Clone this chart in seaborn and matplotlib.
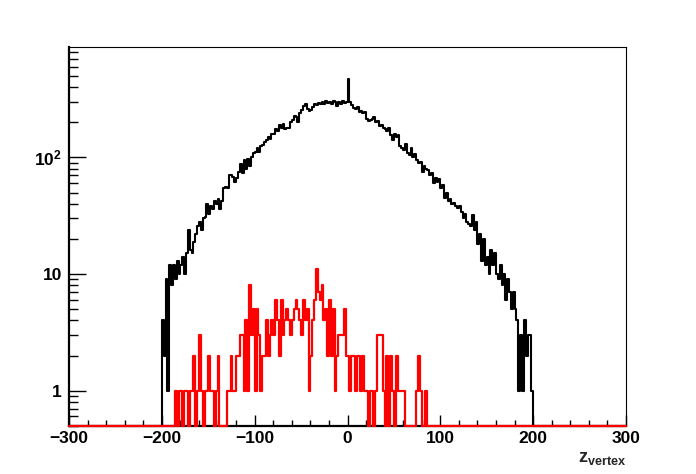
import numpy as np
import seaborn as sns
import matplotlib
matplotlib.use("Agg")
import matplotlib.pyplot as plt
from matplotlib.ticker import FixedLocator, FixedFormatter, LogLocator, NullFormatter, MultipleLocator

# histogram binning (2 units per bin, -300..300)
bin_width = 2
x_range = (-300, 300)

# black histogram: all vertices, bins from -200 to 198
black_start = -200
black_counts = [
    4, 2, 9, 1, 12, 8, 12, 9, 13, 10,
    12, 14, 10, 15, 24, 16, 15, 19, 22, 26,
    28, 24, 30, 31, 40, 33, 38, 36, 42, 40,
    44, 36, 42, 55, 56, 55, 70, 71, 68, 62,
    66, 75, 88, 74, 95, 80, 97, 85, 100, 110,
    112, 120, 112, 125, 128, 135, 140, 150, 145, 158,
    160, 175, 168, 190, 180, 195, 175, 180, 178, 200,
    210, 225, 220, 200, 240, 255, 275, 290, 260, 250,
    255, 270, 290, 280, 295, 285, 300, 290, 305, 295,
    300, 290, 305, 300, 275, 300, 290, 305, 295, 300,
    470, 300, 280, 265, 260, 270, 245, 250, 240, 245,
    215, 205, 210, 215, 220, 200, 205, 185, 190, 180,
    175, 170, 178, 155, 140, 160, 150, 155, 125, 120,
    115, 130, 110, 105, 120, 100, 108, 95, 90, 92,
    75, 85, 80, 78, 70, 74, 60, 66, 62, 65,
    55, 58, 45, 50, 42, 44, 40, 41, 38, 37,
    38, 34, 30, 33, 28, 27, 26, 32, 24, 28,
    18, 22, 13, 20, 12, 14, 10, 16, 12, 15,
    10, 9, 12, 8, 10, 6, 9, 7, 5, 7,
    5, 4, 1, 3, 1, 4, 2, 3, 3, 1,
]

# red histogram: selected vertices, bins from -190 to 88
red_start = -190
red_counts = [
    0, 0, 1, 0, 1, 1, 0, 1, 1, 0,
    1, 1, 2, 0, 1, 3, 1, 0, 1, 1,
    2, 1, 1, 0, 1, 2, 0, 0, 0, 0,
    1, 1, 2, 1, 1, 2, 2, 3, 3, 1,
    4, 1, 8, 3, 5, 1, 5, 3, 1, 2,
    2, 4, 2, 3, 4, 3, 6, 4, 2, 6,
    3, 4, 5, 4, 3, 4, 5, 6, 5, 4,
    3, 6, 4, 5, 1, 2, 4, 6, 11, 7,
    6, 8, 4, 5, 2, 6, 2, 5, 1, 2,
    3, 3, 3, 5, 2, 2, 1, 2, 2, 1,
    2, 2, 1, 2, 1, 1, 0, 1, 1, 0,
    1, 3, 3, 3, 1, 0, 2, 0, 2, 1,
    0, 2, 1, 1, 1, 1, 0, 0, 0, 0,
    0, 0, 1, 2, 1, 0, 0, 1, 0, 0,
]

y_ticks = [1, 10, 100]
y_ticklabels = ["1", "10", r"$\mathbf{10^{2}}$"]
x_ticks = [-300, -200, -100, 0, 100, 200, 300]
x_label = r"$\mathbf{z_{vertex}}$"

ymin, ymax = 0.5, 880

edges = np.arange(x_range[0], x_range[1] + bin_width, bin_width)
nbins = len(edges) - 1


def full_hist(start, counts):
    h = np.zeros(nbins)
    i0 = (start - x_range[0]) // bin_width
    h[i0:i0 + len(counts)] = counts
    # empty bins sit on the lower frame edge like ROOT draws them
    h = np.where(h > 0, h, ymin)
    return np.append(h, h[-1])


sns.set_style("ticks")
plt.rcParams["font.family"] = ["Liberation Sans", "DejaVu Sans"]
plt.rcParams["font.weight"] = "bold"
plt.rcParams["mathtext.fontset"] = "custom"
plt.rcParams["mathtext.bf"] = "Liberation Sans:bold"
plt.rcParams["mathtext.rm"] = "Liberation Sans:bold"

fig = plt.figure(figsize=(6.96, 4.74), dpi=100)
ax = fig.add_axes([69 / 696, 1 - 425.7 / 474, (626 - 69) / 696, (425.7 - 47.3) / 474])

sns.lineplot(x=edges, y=full_hist(black_start, black_counts), drawstyle="steps-post",
             color="black", linewidth=1.5, estimator=None, sort=False, ax=ax,
             clip_on=False, zorder=3)
sns.lineplot(x=edges, y=full_hist(red_start, red_counts), drawstyle="steps-post",
             color="#ff0000", linewidth=1.6, estimator=None, sort=False, ax=ax,
             clip_on=False, zorder=4)

ax.set_yscale("log")
ax.set_xlim(*x_range)
ax.set_ylim(ymin, ymax)

ax.xaxis.set_major_locator(FixedLocator(x_ticks))
ax.xaxis.set_minor_locator(MultipleLocator(20))
ax.yaxis.set_major_locator(FixedLocator(y_ticks))
ax.yaxis.set_major_formatter(FixedFormatter(y_ticklabels))
ax.yaxis.set_minor_locator(LogLocator(base=10, subs=np.arange(2, 10)))
ax.yaxis.set_minor_formatter(NullFormatter())

ax.tick_params(axis="both", which="both", direction="in", labelsize=12.5, width=1,
               bottom=True, left=True, top=False, right=False, colors="black")
ax.tick_params(axis="x", which="major", length=8, pad=4)
ax.tick_params(axis="x", which="minor", length=4)
ax.tick_params(axis="y", which="major", length=12.5, pad=5)
ax.tick_params(axis="y", which="minor", length=6.5)
for lab in ax.get_xticklabels() + ax.get_yticklabels():
    lab.set_fontweight("bold")

for side in ["top", "right"]:
    ax.spines[side].set_visible(True)
    ax.spines[side].set_linewidth(0.8)
ax.spines["left"].set_linewidth(1.6)
ax.spines["bottom"].set_linewidth(1.6)
for s in ax.spines.values():
    s.set_color("black")

ax.set_ylabel("")
ax.set_xlabel(x_label, fontsize=13, ha="right")
ax.xaxis.set_label_coords(1.0, -0.065)

fig.savefig("out.png", dpi=100)
